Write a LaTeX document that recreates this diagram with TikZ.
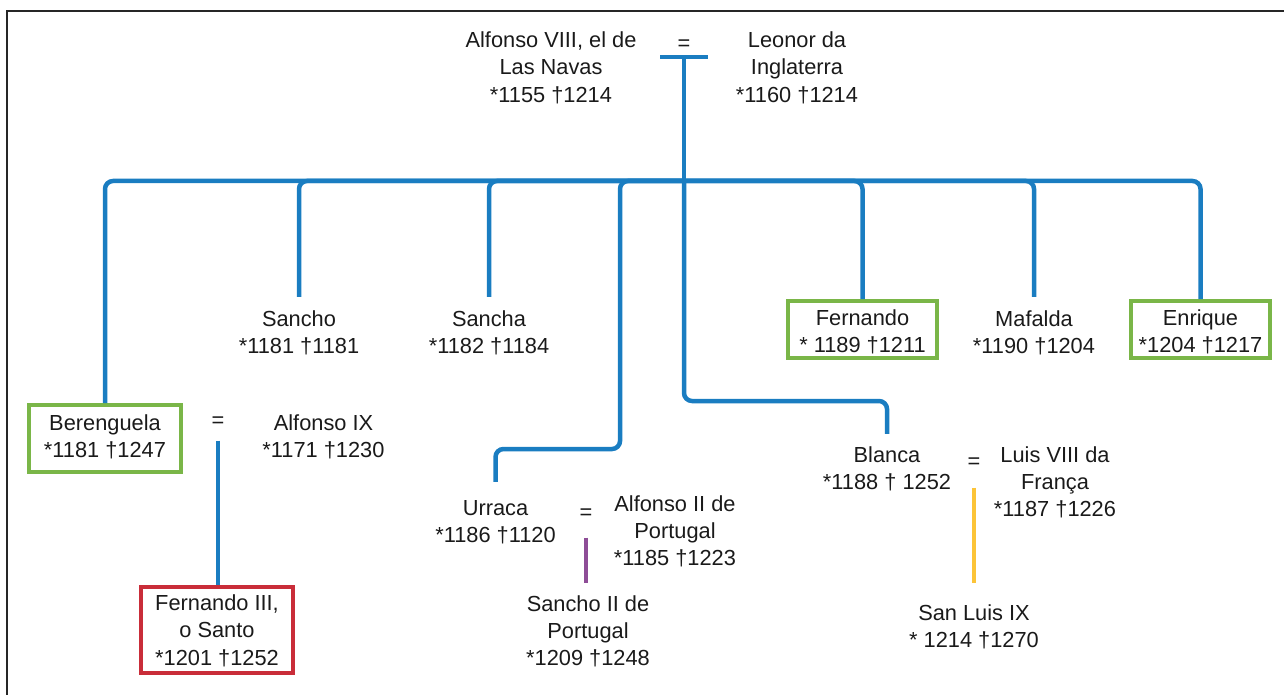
\documentclass[tikz,border=0pt]{standalone}
\usepackage{fontspec}
\setmainfont{Liberation Sans}
\definecolor{lblue}{HTML}{1A7DC1}
\definecolor{lgreen}{HTML}{7AB648}
\definecolor{lred}{HTML}{C92D39}
\definecolor{lpurple}{HTML}{8E4D97}
\definecolor{lyellow}{HTML}{FCC438}
\definecolor{textc}{HTML}{1A1A1A}
\newcommand\tallstrut{\rule{0pt}{24pt}}
\newcommand\lowstrut{\rule[-5pt]{0pt}{5pt}}
\newcommand\midstrut{\rule{0pt}{24pt}}
\begin{document}
\begin{tikzpicture}[x=1pt,y=-1pt,
  txt/.style={font=\fontsize{21.8}{27.3}\selectfont, align=center, inner sep=0pt, anchor=north, text=textc},
  eqs/.style={font=\fontsize{21.8}{27.3}\selectfont, inner sep=0pt, text=textc},
  boxg/.style={txt, anchor=center, draw=lgreen, line width=4pt},
  boxr/.style={txt, anchor=center, draw=lred, line width=4pt},
  conn/.style={draw=lblue, line width=4.5pt, rounded corners=8pt},
  couple/.style={line width=4pt}]
\useasboundingbox (0,0) rectangle (1284,695);
% frame
\draw[line width=2pt, black!85] (7,700) -- (7,11) -- (1290,11);

% top couple
\node[txt] (alf8) at (551,28.2) {\strut Alfonso VIII, el de\\\strut Las Navas\\\strut *1155 †1214};
\node[txt] (leonor) at (797,28.2) {\strut Leonor da\\\strut Inglaterra\\\strut *1160 †1214};
\node[eqs] (eq0) at (684,45) {=};
\coordinate (barL) at (660,57);
\coordinate (barR) at (708,57);
\coordinate (barM) at (684,57);
\coordinate (hub) at (684,181);
\draw[conn, rounded corners=0pt] (barL) -- (barR);

% children
\node[boxg, minimum width=152pt, minimum height=67pt] (beren) at (105,438.5) {\strut Berenguela\\\strut *1181 †1247};
\node[txt] (sancho) at (299,306.9) {\strut Sancho\\\strut *1181 †1181};
\node[txt] (sancha) at (489,306.9) {\strut Sancha\\\strut *1182 †1184};
\node[txt] (urraca) at (495.5,495.9) {\strut Urraca\\\strut *1186 †1120};
\node[txt] (blanca) at (887,442.9) {\strut Blanca\\\strut *1188 † 1252};
\node[boxg, minimum width=149pt, minimum height=57pt] (fern) at (862.5,329.5) {\tallstrut Fernando\\\lowstrut * 1189 †1211};
\node[txt] (mafalda) at (1034,306.9) {\strut Mafalda\\\strut *1190 †1204};
\node[boxg, minimum width=139pt, minimum height=57pt] (enrique) at (1200.5,329.5) {\tallstrut Enrique\\\lowstrut *1204 †1217};

\coordinate (uc) at (620,449);
\coordinate (bc) at (684,401);

\draw[conn] (barM) -- (hub);
\draw[conn] (hub) -| (beren.north);
\draw[conn, shorten >=10pt] (hub) -| (sancho.north);
\draw[conn, shorten >=10pt] (hub) -| (sancha.north);
\draw[conn, shorten >=14pt] (hub) -| (uc) -| (urraca.north);
\draw[conn, shorten >=9pt] (hub) -- (bc) -| (blanca.north);
\draw[conn] (hub) -| (fern.north);
\draw[conn, shorten >=10pt] (hub) -| (mafalda.north);
\draw[conn] (hub) -| (enrique.north);

% Berenguela = Alfonso IX
\node[eqs] (eqB) at (218,422) {=};
\node[txt] (alf9) at (323.5,410.9) {\strut Alfonso IX\\\strut *1171 †1230};
\node[boxr, minimum width=152pt, minimum height=86pt] (fern3) at (217,630) {\midstrut Fernando III,\\\strut o Santo\\\strut *1201 †1252};
\draw[couple, draw=lblue, shorten <=13pt] (eqB.south) -- (eqB.south |- fern3.north);

% Urraca = Alfonso II
\node[eqs] (eqU) at (586,514) {=};
\node[txt] (alf2) at (675,491.9) {\strut Alfonso II de\\\strut Portugal\\\strut *1185 †1223};
\node[txt] (sancho2) at (588,591.9) {\strut Sancho II de\\\strut Portugal\\\strut *1209 †1248};
\draw[couple, draw=lpurple, shorten <=18pt, shorten >=9pt] (eqU.south) -- (eqU.south |- sancho2.north);

% Blanca = Luis VIII
\node[eqs] (eqL) at (974,463) {=};
\node[txt] (luis8) at (1055,442.9) {\strut Luis VIII da\\\strut França\\\strut *1187 †1226};
\node[txt] (sanluis) at (974,600.9) {\strut San Luis IX\\\strut * 1214 †1270};
\draw[couple, draw=lyellow, shorten <=19pt, shorten >=18pt] (eqL.south) -- (eqL.south |- sanluis.north);
\end{tikzpicture}
\end{document}
